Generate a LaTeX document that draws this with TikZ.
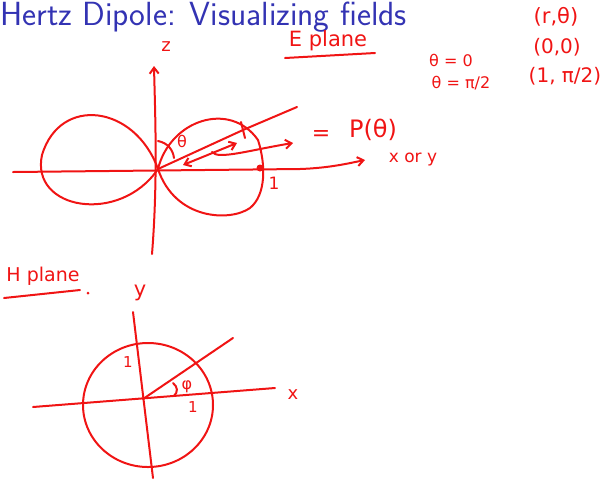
\documentclass[tikz,border=0pt]{standalone}
\usepackage{fontspec}
\newfontfamily\handfont{DejaVu Sans}
\usetikzlibrary{arrows.meta}
\definecolor{ink}{RGB}{240,20,20}
\definecolor{titleblue}{RGB}{51,51,179}
\tikzset{
  pen/.style={draw=ink, line width=2pt, line cap=round, line join=round},
  penarrow/.style={pen, -{Straight Barb[length=6pt,width=9pt]}},
  penboth/.style={pen, {Straight Barb[length=6pt,width=9pt]}-{Straight Barb[length=6pt,width=9pt]}},
  hand/.style={text=ink, inner sep=0pt, font=\handfont\fontsize{#1}{#1}\selectfont},
  hand/.default=15
}
\begin{document}
\begin{tikzpicture}[x=1pt,y=-1pt]
\useasboundingbox (0,0) rectangle (609,480);
% title
\node[anchor=base west, inner sep=0pt, text=titleblue, font=\sffamily\fontsize{33.5}{34}\selectfont] (title) at (0,25) {Hertz Dipole: Visualizing fields};

% ---------- E plane ----------
\coordinate (O) at (158,169);
\coordinate (zb) at (152,254);
\coordinate (zt) at (154,66);
\coordinate (xl) at (13,172);
\coordinate (xr) at (365,160);
\draw[penarrow] (zb) .. controls (158,180) and (155,110) .. (zt);
\draw[penarrow] (xl) -- (300,169) .. controls (330,168) and (350,163) .. (xr);
\node[hand=18] (zlab) at (166,47) {z};
% lobes
\draw[pen] (O) .. controls (135,105) and (60,95) .. (42,155)
              .. controls (30,210) and (120,225) .. (O);
\draw[pen] (O) .. controls (170,120) and (230,100) .. (258,140)
              .. controls (266,165) and (266,195) .. (250,208)
              .. controls (230,222) and (175,220) .. (O);
% ray and marks
\coordinate (rayend) at (297,107);
\coordinate (Xm) at (243,130);
\draw[pen] (O) -- (Xm) -- (rayend);
\draw[pen] (241,122) -- (245,138);
\draw[pen] (158,141) .. controls (168,143) and (173,150) .. (174,158);
\node[hand=16] (thlab) at (182,141) {θ};
\coordinate (da) at (183,165);
\coordinate (db) at (237,143);
\draw[penboth] (da) -- (db);
\coordinate (ca) at (212,152);
\coordinate (cb) at (293,143);
\draw[penarrow] (ca) .. controls (218,160) and (250,150) .. (cb);
\fill[ink] (260,168) circle (3.5);
\node[hand=17] (one1) at (274,183) {1};
\node[hand=22] (eq) at (321,135) {=};
\node[hand=24] (P) at (373,130) {P(θ)};
\node[hand=17] (xory) at (413,160) {x  or  y};
% E plane label
\node[hand=21] (eplane) at (328,41) {E plane};
\coordinate (ul1) at (285,58);
\coordinate (ul2) at (375,53);
\draw[pen] (ul1) -- (ul2);

% top right
\node[hand=21] (rth) at (556,17) {(r,θ)};
\node[hand=20] (zz) at (557,47) {(0,0)};
\node[hand=16] (th0) at (451,60) {θ = 0};
\node[hand=16] (th1) at (461,83) {θ = π/2};
\node[hand=20] (pt) at (565,76) {(1, π/2)};

% ---------- H plane ----------
\node[hand=19] (hplane) at (43,276) {H plane};
\coordinate (hu1) at (4,298);
\coordinate (hu2) at (80,290);
\draw[pen] (hu1) -- (hu2);
\fill[ink] (88,293) circle (1.5);
\node[hand=21] (ylab) at (140,293) {y};
\node[hand=18] (xlab) at (293,395) {x};
\coordinate (HO) at (143,399);
\draw[pen] (148,405) ellipse [x radius=65, y radius=62];
\coordinate (yt) at (133,312);
\coordinate (yb) at (153,478);
\draw[pen] (yt) -- (yb);
\coordinate (hxl) at (33,407);
\coordinate (hxr) at (275,388);
\draw[pen] (hxl) -- (hxr);
\coordinate (hray) at (233,338);
\draw[pen] (HO) -- (hray);
\draw[pen] (173,383) .. controls (178,387) and (178,392) .. (174,396);
\node[hand=16] (phi) at (187,387) {φ};
\node[hand=15] (oneA) at (128,362) {1};
\node[hand=15] (oneB) at (193,407) {1};
\end{tikzpicture}
\end{document}
